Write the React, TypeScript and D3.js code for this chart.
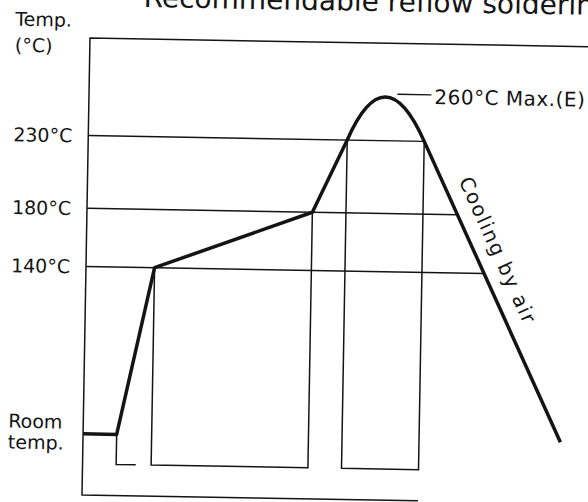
import * as React from "react";
import * as d3 from "d3";
import { useEffect, useRef } from "react";

// reflow profile (time in s, temperature in °C)
const profileTimes = [0, 24, 49, 161, 185, 211, 240, 341];
const profileTemps = [25, 25, 140, 180, 230, 260, 230, 25];

const guideTemps = [230, 180, 140];
const guideLabels = ["230°C", "180°C", "140°C"];

// time brackets drawn under the curve: [start, end]
const brackets = [
  [49, 161],
  [185, 240],
];
const roomStepEnd = 38;

const peakLabel = "260°C Max.(E)";
const coolingLabel = "Cooling by air";
const title = "Recommendable reflow soldering conditions";

const W = 588;
const H = 502;
const FONT = "'DejaVu Sans', sans-serif";
const INK = "#141414";

const App: React.FunctionComponent = () => {
  const svgRef = useRef<SVGSVGElement>(null);

  useEffect(() => {
    const svg = d3.select(svgRef.current);
    svg.selectAll("*").remove();

    const x = d3.scaleLinear().domain([0, 360]).range([86, 86 + 360 * 1.4]);
    const y = d3.scaleLinear().domain([-17, 297]).range([495, 38]);

    // the scan sits about one degree off square
    const g = svg.append("g").attr("transform", "rotate(1, 86, 266)");

    const x0 = x(0);
    const yTop = y(297);
    const yBottom = y(-17);
    const tEndAxis = profileTimes[6];

    // frame: left axis, top line, bottom line
    g.append("path")
      .attr("d", `M${W + 20},${yTop} L${x0},${yTop} L${x0},${yBottom} L${x(tEndAxis)},${yBottom}`)
      .attr("fill", "none")
      .attr("stroke", INK)
      .attr("stroke-width", 1.5);

    // where the guide lines meet the cooling slope
    const cool = d3
      .scaleLinear()
      .domain([profileTemps[6], profileTemps[7]])
      .range([profileTimes[6], profileTimes[7]]);

    g.selectAll(".guide")
      .data(guideTemps)
      .join("line")
      .attr("class", "guide")
      .attr("x1", x0)
      .attr("x2", (d) => x(cool(d)))
      .attr("y1", (d) => y(d))
      .attr("y2", (d) => y(d))
      .attr("stroke", INK)
      .attr("stroke-width", 1.4);

    g.selectAll(".tick-label")
      .data(guideTemps)
      .join("text")
      .attr("class", "tick-label")
      .attr("x", 11)
      .attr("y", (d) => y(d) + 7)
      .attr("font-family", FONT)
      .attr("font-size", 19)
      .attr("fill", INK)
      .text((_, i) => guideLabels[i]);

    // brackets under the curve
    const yRoom = y(profileTemps[0]);
    const yBr = yRoom + 30;
    g.append("path")
      .attr("d", `M${x(profileTimes[1])},${yRoom} L${x(profileTimes[1])},${yBr} L${x(roomStepEnd)},${yBr}`)
      .attr("fill", "none")
      .attr("stroke", INK)
      .attr("stroke-width", 1.5);

    g.selectAll(".bracket")
      .data(brackets)
      .join("path")
      .attr("class", "bracket")
      .attr("d", (d) => {
        const tA = profileTemps[profileTimes.indexOf(d[0])];
        const tB = profileTemps[profileTimes.indexOf(d[1])];
        return `M${x(d[0])},${y(tA)} L${x(d[0])},${yBr} L${x(d[1])},${yBr} L${x(d[1])},${y(tB)}`;
      })
      .attr("fill", "none")
      .attr("stroke", INK)
      .attr("stroke-width", 1.5);

    // the profile: straight ramps, a parabolic peak, then cooling
    const p = d3.path();
    p.moveTo(x(profileTimes[0]), y(profileTemps[0]));
    for (let i = 1; i <= 4; i++) p.lineTo(x(profileTimes[i]), y(profileTemps[i]));
    const overshoot = 2 * profileTemps[5] - profileTemps[4];
    p.quadraticCurveTo(x(profileTimes[5]), y(overshoot), x(profileTimes[6]), y(profileTemps[6]));
    p.lineTo(x(profileTimes[7]), y(profileTemps[7]));

    g.append("path")
      .attr("d", p.toString())
      .attr("fill", "none")
      .attr("stroke", INK)
      .attr("stroke-width", 3.5)
      .attr("stroke-linejoin", "round");

    // peak annotation
    const yPeak = y(profileTemps[5]);
    g.append("line")
      .attr("x1", x(profileTimes[5]) + 13)
      .attr("x2", x(profileTimes[5]) + 47)
      .attr("y1", yPeak - 3)
      .attr("y2", yPeak - 3)
      .attr("stroke", INK)
      .attr("stroke-width", 1.3);
    g.append("text")
      .attr("x", x(profileTimes[5]) + 50)
      .attr("y", yPeak + 6)
      .attr("font-family", FONT)
      .attr("font-size", 20)
      .attr("letter-spacing", 0.5)
      .attr("fill", INK)
      .text(peakLabel);

    // rotated label along the cooling slope
    const ax = x(profileTimes[6]);
    const ay = y(profileTemps[6]);
    const bx = x(profileTimes[7]);
    const by = y(profileTemps[7]);
    const ang = Math.atan2(by - ay, bx - ax);
    const len = Math.hypot(bx - ax, by - ay);
    const s = 50 / len;
    const px = ax + (bx - ax) * s + Math.sin(ang) * 15;
    const py = ay + (by - ay) * s - Math.cos(ang) * 15;
    g.append("text")
      .attr("transform", `translate(${px},${py}) rotate(${(ang * 180) / Math.PI})`)
      .attr("font-family", FONT)
      .attr("font-size", 20)
      .attr("letter-spacing", 1.5)
      .attr("fill", INK)
      .text(coolingLabel);

    // axis captions
    const caption = [
      { t: "Temp.", y: 27 },
      { t: "(°C)", y: 53 },
      { t: "Room", y: yRoom - 5 },
      { t: "temp.", y: yRoom + 16 },
    ];
    g.selectAll(".caption")
      .data(caption)
      .join("text")
      .attr("class", "caption")
      .attr("x", 11)
      .attr("y", (d) => d.y)
      .attr("font-family", FONT)
      .attr("font-size", 19)
      .attr("fill", INK)
      .text((d) => d.t);

    // title, mostly cut off by the top edge
    g.append("text")
      .attr("x", 139)
      .attr("y", 6)
      .attr("font-family", FONT)
      .attr("font-size", 28)
      .attr("fill", INK)
      .text(title);
  }, []);

  return (
    <svg
      ref={svgRef}
      width={W}
      height={H}
      style={{ position: "absolute", left: 0, top: 0, background: "#fff" }}
    ></svg>
  );
};

export default App;
